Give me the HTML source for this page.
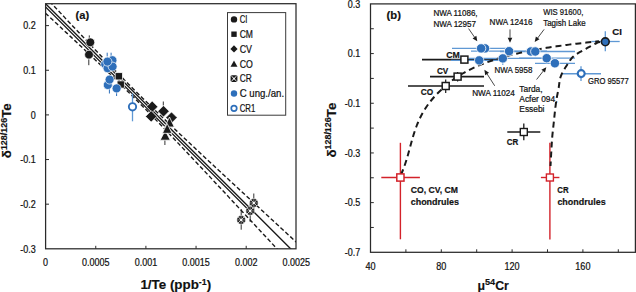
<!DOCTYPE html>
<html><head><meta charset="utf-8"><style>
html,body{margin:0;padding:0;background:#fff;}
body{width:636px;height:292px;overflow:hidden;}
svg{display:block;font-family:"Liberation Sans", sans-serif;}
</style></head><body>
<svg width="636" height="292" viewBox="0 0 636 292">
<rect width="636" height="292" fill="#fff"/>
<defs><clipPath id="ca"><rect x="45.60" y="3.70" width="250.40" height="245.10"/></clipPath><clipPath id="cb"><rect x="370.5" y="3.9" width="263.5" height="248.4"/></clipPath></defs>
<g clip-path="url(#ca)">
<polyline points="40.60,-1.30 42.60,0.70 44.60,2.70 46.60,4.70 48.60,6.70 50.60,8.70 52.60,10.70 54.60,12.70 56.60,14.70 58.60,16.70 60.60,18.70 62.60,20.70 64.60,22.70 66.60,24.70 68.60,26.70 70.60,28.70 72.60,30.70 74.60,32.70 76.60,34.70 78.60,36.70 80.60,38.70 82.60,40.70 84.60,42.70 86.60,44.70 88.60,46.70 90.60,48.70 92.60,50.70 94.60,52.70 96.60,54.70 98.60,56.70 100.60,58.70 102.60,60.70 104.60,62.70 106.60,64.70 108.60,66.70 110.60,68.70 112.60,70.70 114.60,72.70 116.60,74.70 118.60,76.70 120.60,78.70 122.60,80.70 124.60,82.70 126.60,84.70 128.60,86.70 130.60,88.70 132.60,90.70 134.60,92.70 136.60,94.70 138.60,96.70 140.60,98.70 142.60,100.70 144.60,102.70 146.60,104.70 148.60,106.70 150.60,108.70 152.60,110.70 154.60,112.70 156.60,114.70 158.60,116.70 160.60,118.70 162.60,120.70 164.60,122.70 166.60,124.70 168.60,126.70 170.60,128.70 172.60,130.70 174.60,132.70 176.60,134.70 178.60,136.70 180.60,138.70 182.60,140.70 184.60,142.70 186.60,144.70 188.60,146.70 190.60,148.70 192.60,150.70 194.60,152.70 196.60,154.70 198.60,156.70 200.60,158.70 202.60,160.70 204.60,162.70 206.60,164.70 208.60,166.70 210.60,168.70 212.60,170.70 214.60,172.70 216.60,174.70 218.60,176.70 220.60,178.70 222.60,180.70 224.60,182.70 226.60,184.70 228.60,186.70 230.60,188.70 232.60,190.70 234.60,192.70 236.60,194.70 238.60,196.70 240.60,198.70 242.60,200.70 244.60,202.70 246.60,204.70 248.60,206.70 250.60,208.70 252.60,210.70 254.60,212.70 256.60,214.70 258.60,216.70 260.60,218.70 262.60,220.70 264.60,222.70 266.60,224.70 268.60,226.70 270.60,228.70 272.60,230.70 274.60,232.70 276.60,234.70 278.60,236.70 280.60,238.70 282.60,240.70 284.60,242.70 286.60,244.70 288.60,246.70 290.60,248.70 292.60,250.70 294.60,252.70 296.60,254.70 298.60,256.70 300.60,258.70 302.60,260.70 304.60,262.70 306.60,264.70 308.60,266.70" fill="none" stroke="#1a1a1a" stroke-width="1.35" />
<polyline points="40.60,2.00 42.60,4.00 44.60,6.00 46.60,8.00 48.60,10.00 50.60,12.00 52.60,14.00 54.60,16.00 56.60,18.00 58.60,20.00 60.60,22.00 62.60,24.00 64.60,26.00 66.60,28.00 68.60,30.00 70.60,32.00 72.60,34.00 74.60,36.00 76.60,38.00 78.60,40.00 80.60,42.00 82.60,44.00 84.60,46.00 86.60,48.00 88.60,50.00 90.60,52.00 92.60,54.00 94.60,56.00 96.60,58.00 98.60,60.00 100.60,62.00 102.60,64.00 104.60,66.00 106.60,68.00 108.60,70.00 110.60,72.00 112.60,74.00 114.60,76.00 116.60,78.00 118.60,80.00 120.60,82.00 122.60,84.00 124.60,86.00 126.60,88.00 128.60,90.00 130.60,92.00 132.60,94.00 134.60,96.00 136.60,98.00 138.60,100.00 140.60,102.00 142.60,104.00 144.60,106.00 146.60,108.00 148.60,110.00 150.60,112.00 152.60,114.00 154.60,116.00 156.60,118.00 158.60,120.00 160.60,122.00 162.60,124.00 164.60,126.00 166.60,128.00 168.60,130.00 170.60,132.00 172.60,134.00 174.60,136.00 176.60,138.00 178.60,140.00 180.60,142.00 182.60,144.00 184.60,146.00 186.60,148.00 188.60,150.00 190.60,152.00 192.60,154.00 194.60,156.00 196.60,158.00 198.60,160.00 200.60,162.00 202.60,164.00 204.60,166.00 206.60,168.00 208.60,170.00 210.60,172.00 212.60,174.00 214.60,176.00 216.60,178.00 218.60,180.00 220.60,182.00 222.60,184.00 224.60,186.00 226.60,188.00 228.60,190.00 230.60,192.00 232.60,194.00 234.60,196.00 236.60,198.00 238.60,200.00 240.60,202.00 242.60,204.00 244.60,206.00 246.60,208.00 248.60,210.00 250.60,212.00 252.60,214.00" fill="none" stroke="#1a1a1a" stroke-width="1.15" />
<polyline points="40.60,-8.26 42.60,-6.11 44.60,-3.97 46.60,-1.83 48.60,0.31 50.60,2.45 52.60,4.58 54.60,6.72 56.60,8.86 58.60,10.99 60.60,13.12 62.60,15.26 64.60,17.39 66.60,19.52 68.60,21.65 70.60,23.77 72.60,25.90 74.60,28.02 76.60,30.14 78.60,32.26 80.60,34.38 82.60,36.50 84.60,38.61 86.60,40.72 88.60,42.83 90.60,44.94 92.60,47.04 94.60,49.14 96.60,51.24 98.60,53.33 100.60,55.42 102.60,57.51 104.60,59.59 106.60,61.67 108.60,63.74 110.60,65.81 112.60,67.88 114.60,69.93 116.60,71.99 118.60,74.03 120.60,76.08 122.60,78.11 124.60,80.14 126.60,82.17 128.60,84.18 130.60,86.20 132.60,88.20 134.60,90.20 136.60,92.19 138.60,94.17 140.60,96.15 142.60,98.13 144.60,100.09 146.60,102.05 148.60,104.01 150.60,105.96 152.60,107.90 154.60,109.84 156.60,111.77 158.60,113.70 160.60,115.62 162.60,117.54 164.60,119.46 166.60,121.37 168.60,123.28 170.60,125.18 172.60,127.08 174.60,128.98 176.60,130.87 178.60,132.77 180.60,134.66 182.60,136.54 184.60,138.43 186.60,140.31 188.60,142.19 190.60,144.07 192.60,145.95 194.60,147.82 196.60,149.70 198.60,151.57 200.60,153.44 202.60,155.31 204.60,157.18 206.60,159.04 208.60,160.91 210.60,162.77 212.60,164.64 214.60,166.50 216.60,168.36 218.60,170.22 220.60,172.08 222.60,173.94 224.60,175.80 226.60,177.66 228.60,179.52 230.60,181.37 232.60,183.23 234.60,185.08 236.60,186.94 238.60,188.79 240.60,190.65 242.60,192.50 244.60,194.35 246.60,196.21 248.60,198.06 250.60,199.91 252.60,201.76 254.60,203.61 256.60,205.46 258.60,207.31 260.60,209.16 262.60,211.01 264.60,212.86 266.60,214.71 268.60,216.56 270.60,218.41 272.60,220.26 274.60,222.10 276.60,223.95 278.60,225.80 280.60,227.65 282.60,229.49 284.60,231.34 286.60,233.19 288.60,235.03 290.60,236.88 292.60,238.73 294.60,240.57 296.60,242.42 298.60,244.26 300.60,246.11 302.60,247.95 304.60,249.80 306.60,251.64 308.60,253.49" fill="none" stroke="#1a1a1a" stroke-width="1.4" stroke-dasharray="4.2 2.4" />
<polyline points="40.60,8.66 42.60,10.51 44.60,12.37 46.60,14.23 48.60,16.09 50.60,17.95 52.60,19.82 54.60,21.68 56.60,23.54 58.60,25.41 60.60,27.28 62.60,29.14 64.60,31.01 66.60,32.88 68.60,34.75 70.60,36.63 72.60,38.50 74.60,40.38 76.60,42.26 78.60,44.14 80.60,46.02 82.60,47.90 84.60,49.79 86.60,51.68 88.60,53.57 90.60,55.46 92.60,57.36 94.60,59.26 96.60,61.16 98.60,63.07 100.60,64.98 102.60,66.89 104.60,68.81 106.60,70.73 108.60,72.66 110.60,74.59 112.60,76.52 114.60,78.47 116.60,80.41 118.60,82.37 120.60,84.32 122.60,86.29 124.60,88.26 126.60,90.23 128.60,92.22 130.60,94.20 132.60,96.20 134.60,98.20 136.60,100.21 138.60,102.23 140.60,104.25 142.60,106.27 144.60,108.31 146.60,110.35 148.60,112.39 150.60,114.44 152.60,116.50 154.60,118.56 156.60,120.63 158.60,122.70 160.60,124.78 162.60,126.86 164.60,128.94 166.60,131.03 168.60,133.12 170.60,135.22 172.60,137.32 174.60,139.42 176.60,141.53 178.60,143.63 180.60,145.74 182.60,147.86 184.60,149.97 186.60,152.09 188.60,154.21 190.60,156.33 192.60,158.45 194.60,160.58 196.60,162.70 198.60,164.83 200.60,166.96 202.60,169.09 204.60,171.22 206.60,173.36 208.60,175.49 210.60,177.63 212.60,179.76 214.60,181.90 216.60,184.04 218.60,186.18 220.60,188.32 222.60,190.46 224.60,192.60 226.60,194.74 228.60,196.88 230.60,199.03 232.60,201.17 234.60,203.32 236.60,205.46 238.60,207.61 240.60,209.75 242.60,211.90 244.60,214.05 246.60,216.19 248.60,218.34 250.60,220.49 252.60,222.64 254.60,224.79 256.60,226.94 258.60,229.09 260.60,231.24 262.60,233.39 264.60,235.54 266.60,237.69 268.60,239.84 270.60,241.99 272.60,244.14 274.60,246.30 276.60,248.45 278.60,250.60 280.60,252.75 282.60,254.91 284.60,257.06 286.60,259.21 288.60,261.37 290.60,263.52 292.60,265.67 294.60,267.83 296.60,269.98 298.60,272.14 300.60,274.29 302.60,276.45 304.60,278.60 306.60,280.76 308.60,282.91" fill="none" stroke="#1a1a1a" stroke-width="1.4" stroke-dasharray="4.2 2.4" />
</g>
<rect x="45.6" y="3.7" width="250.4" height="245.10000000000002" fill="none" stroke="#2a2a2a" stroke-width="1.25"/>
<line x1="45.60" y1="25.62" x2="49.00" y2="25.62" stroke="#2a2a2a" stroke-width="1" />
<line x1="45.60" y1="70.26" x2="49.00" y2="70.26" stroke="#2a2a2a" stroke-width="1" />
<line x1="45.60" y1="114.90" x2="49.00" y2="114.90" stroke="#2a2a2a" stroke-width="1" />
<line x1="45.60" y1="159.54" x2="49.00" y2="159.54" stroke="#2a2a2a" stroke-width="1" />
<line x1="45.60" y1="204.18" x2="49.00" y2="204.18" stroke="#2a2a2a" stroke-width="1" />
<line x1="95.75" y1="248.80" x2="95.75" y2="245.80" stroke="#2a2a2a" stroke-width="1" />
<line x1="145.90" y1="248.80" x2="145.90" y2="245.80" stroke="#2a2a2a" stroke-width="1" />
<line x1="196.05" y1="248.80" x2="196.05" y2="245.80" stroke="#2a2a2a" stroke-width="1" />
<line x1="246.20" y1="248.80" x2="246.20" y2="245.80" stroke="#2a2a2a" stroke-width="1" />
<text x="35.70" y="29.32" font-size="10.1" font-weight="normal" text-anchor="end" fill="#111" stroke="#111" stroke-width="0.22" textLength="12.5" lengthAdjust="spacingAndGlyphs" >0.2</text>
<text x="35.70" y="73.96" font-size="10.1" font-weight="normal" text-anchor="end" fill="#111" stroke="#111" stroke-width="0.22" textLength="12.5" lengthAdjust="spacingAndGlyphs" >0.1</text>
<text x="35.70" y="118.60" font-size="10.1" font-weight="normal" text-anchor="end" fill="#111" stroke="#111" stroke-width="0.22" textLength="5.0" lengthAdjust="spacingAndGlyphs" >0</text>
<text x="35.70" y="163.24" font-size="10.1" font-weight="normal" text-anchor="end" fill="#111" stroke="#111" stroke-width="0.22" textLength="15.49" lengthAdjust="spacingAndGlyphs" >-0.1</text>
<text x="35.70" y="207.88" font-size="10.1" font-weight="normal" text-anchor="end" fill="#111" stroke="#111" stroke-width="0.22" textLength="15.49" lengthAdjust="spacingAndGlyphs" >-0.2</text>
<text x="35.70" y="252.52" font-size="10.1" font-weight="normal" text-anchor="end" fill="#111" stroke="#111" stroke-width="0.22" textLength="15.49" lengthAdjust="spacingAndGlyphs" >-0.3</text>
<text x="45.60" y="266.00" font-size="10.1" font-weight="normal" text-anchor="middle" fill="#111" stroke="#111" stroke-width="0.22" textLength="5.0" lengthAdjust="spacingAndGlyphs" >0</text>
<text x="95.75" y="266.00" font-size="10.1" font-weight="normal" text-anchor="middle" fill="#111" stroke="#111" stroke-width="0.22" textLength="27.49" lengthAdjust="spacingAndGlyphs" >0.0005</text>
<text x="145.90" y="266.00" font-size="10.1" font-weight="normal" text-anchor="middle" fill="#111" stroke="#111" stroke-width="0.22" textLength="22.49" lengthAdjust="spacingAndGlyphs" >0.001</text>
<text x="196.05" y="266.00" font-size="10.1" font-weight="normal" text-anchor="middle" fill="#111" stroke="#111" stroke-width="0.22" textLength="27.49" lengthAdjust="spacingAndGlyphs" >0.0015</text>
<text x="246.20" y="266.00" font-size="10.1" font-weight="normal" text-anchor="middle" fill="#111" stroke="#111" stroke-width="0.22" textLength="22.49" lengthAdjust="spacingAndGlyphs" >0.002</text>
<text x="296.35" y="266.00" font-size="10.1" font-weight="normal" text-anchor="middle" fill="#111" stroke="#111" stroke-width="0.22" textLength="27.49" lengthAdjust="spacingAndGlyphs" >0.0025</text>
<text x="140.4" y="289.2" font-size="12.4" font-weight="bold" fill="#111" stroke="#111" stroke-width="0.15" textLength="70.8" lengthAdjust="spacingAndGlyphs">1/Te (ppb<tspan dy="-4.6" font-size="8.2">-1</tspan><tspan dy="4.6">)</tspan></text>
<text transform="translate(11,158.2) rotate(-90)" x="0" y="0" font-size="13.2" font-weight="bold" fill="#111" stroke="#111" stroke-width="0.15" textLength="55" lengthAdjust="spacingAndGlyphs">δ<tspan dy="-4.4" font-size="8.8">128/126</tspan><tspan dy="4.4">Te</tspan></text>
<text x="75.60" y="18.90" font-size="11" font-weight="bold" text-anchor="start" fill="#111" stroke="#111" stroke-width="0.18" textLength="13.6" lengthAdjust="spacingAndGlyphs" >(a)</text>
<line x1="89.30" y1="35.40" x2="89.30" y2="38.50" stroke="#1a1a1a" stroke-width="0.9" />
<line x1="88.80" y1="59.00" x2="88.80" y2="65.20" stroke="#1a1a1a" stroke-width="0.9" />
<circle cx="90.30" cy="42.30" r="4.4" fill="#1a1a1a" stroke="#fff" stroke-width="0.7"/>
<circle cx="89.00" cy="54.70" r="4.4" fill="#1a1a1a" stroke="#fff" stroke-width="0.7"/>
<line x1="107.20" y1="52.70" x2="107.20" y2="56.50" stroke="#2e6fba" stroke-width="1" />
<line x1="111.10" y1="52.70" x2="111.10" y2="56.50" stroke="#2e6fba" stroke-width="1" />
<line x1="109.40" y1="89.00" x2="109.40" y2="93.50" stroke="#2e6fba" stroke-width="1" />
<line x1="116.60" y1="92.00" x2="116.60" y2="96.00" stroke="#2e6fba" stroke-width="1" />
<rect x="117.10" y="80.90" width="7.20" height="7.20" fill="#1a1a1a" stroke="#fff" stroke-width="0.7"/>
<rect x="115.20" y="72.70" width="7.20" height="7.20" fill="#1a1a1a" stroke="#fff" stroke-width="0.7"/>
<circle cx="105.20" cy="64.20" r="4.5" fill="#2e6fba" stroke="#fff" stroke-width="0.7"/>
<circle cx="112.40" cy="60.20" r="4.5" fill="#2e6fba" stroke="#fff" stroke-width="0.7"/>
<circle cx="107.60" cy="68.20" r="4.5" fill="#2e6fba" stroke="#fff" stroke-width="0.7"/>
<circle cx="112.60" cy="66.60" r="4.5" fill="#2e6fba" stroke="#fff" stroke-width="0.7"/>
<circle cx="107.40" cy="61.60" r="4.5" fill="#2e6fba" stroke="#fff" stroke-width="0.7"/>
<circle cx="107.80" cy="85.00" r="4.5" fill="#2e6fba" stroke="#fff" stroke-width="0.7"/>
<circle cx="109.60" cy="79.60" r="4.5" fill="#2e6fba" stroke="#fff" stroke-width="0.7"/>
<circle cx="116.60" cy="88.40" r="4.5" fill="#2e6fba" stroke="#fff" stroke-width="0.7"/>
<line x1="132.50" y1="93.50" x2="132.50" y2="121.30" stroke="#5f98d4" stroke-width="1.3" />
<circle cx="132.5" cy="106.8" r="3.65" fill="#fff" stroke="#2e6fba" stroke-width="1.9"/>
<line x1="163.30" y1="101.50" x2="163.30" y2="105.50" stroke="#1a1a1a" stroke-width="0.9" />
<polygon points="152.2,101.0 157.89999999999998,106.7 152.2,112.4 146.5,106.7" fill="#1a1a1a" stroke="#fff" stroke-width="0.7"/>
<polygon points="151.2,110.7 156.89999999999998,116.4 151.2,122.10000000000001 145.5,116.4" fill="#1a1a1a" stroke="#fff" stroke-width="0.7"/>
<polygon points="171.5,111.89999999999999 177.2,117.6 171.5,123.3 165.8,117.6" fill="#1a1a1a" stroke="#fff" stroke-width="0.7"/>
<polygon points="163.5,105.6 169.2,111.3 163.5,117.0 157.8,111.3" fill="#1a1a1a" stroke="#fff" stroke-width="0.7"/>
<line x1="164.90" y1="140.00" x2="164.90" y2="145.00" stroke="#1a1a1a" stroke-width="0.9" />
<polygon points="169.5,117 174.3,127 164.7,127" fill="#1a1a1a" stroke="#fff" stroke-width="0.8"/>
<polygon points="165.2,130.5 170.29999999999998,140.2 160.1,140.2" fill="#1a1a1a" stroke="#fff" stroke-width="0.8"/>
<polygon points="167.2,123.5 172.0,133.3 162.39999999999998,133.3" fill="#1a1a1a" stroke="#fff" stroke-width="0.8"/>
<line x1="253.80" y1="193.50" x2="253.80" y2="212.40" stroke="#1a1a1a" stroke-width="0.9" />
<line x1="250.20" y1="203.00" x2="250.20" y2="222.00" stroke="#1a1a1a" stroke-width="0.9" />
<line x1="241.20" y1="209.10" x2="241.20" y2="229.70" stroke="#1a1a1a" stroke-width="0.9" />
<circle cx="241.2" cy="219.9" r="4.4" fill="#1a1a1a" stroke="#fff" stroke-width="0.6"/>
<path d="M238.11999999999998,216.82L244.28,222.98000000000002M238.11999999999998,222.98000000000002L244.28,216.82" stroke="#fff" stroke-width="0.8"/>
<path d="M241.2,216.16L241.2,223.64000000000001M237.45999999999998,219.9L244.94,219.9" stroke="#fff" stroke-width="0.45"/>
<circle cx="241.2" cy="219.9" r="1.1" fill="#fff"/>
<circle cx="250.2" cy="210.9" r="4.4" fill="#1a1a1a" stroke="#fff" stroke-width="0.6"/>
<path d="M247.11999999999998,207.82L253.28,213.98000000000002M247.11999999999998,213.98000000000002L253.28,207.82" stroke="#fff" stroke-width="0.8"/>
<path d="M250.2,207.16L250.2,214.64000000000001M246.45999999999998,210.9L253.94,210.9" stroke="#fff" stroke-width="0.45"/>
<circle cx="250.2" cy="210.9" r="1.1" fill="#fff"/>
<circle cx="253.8" cy="202.9" r="4.4" fill="#1a1a1a" stroke="#fff" stroke-width="0.6"/>
<path d="M250.72,199.82L256.88,205.98000000000002M250.72,205.98000000000002L256.88,199.82" stroke="#fff" stroke-width="0.8"/>
<path d="M253.8,199.16L253.8,206.64000000000001M250.06,202.9L257.54,202.9" stroke="#fff" stroke-width="0.45"/>
<circle cx="253.8" cy="202.9" r="1.1" fill="#fff"/>
<rect x="227.5" y="12.6" width="58.2" height="102.6" fill="#fff" stroke="#3a3a3a" stroke-width="1"/>
<circle cx="234" cy="19.4" r="3.2" fill="#1a1a1a"/>
<rect x="231.3" y="31.500000000000004" width="5.4" height="5.4" fill="#1a1a1a"/>
<polygon points="234,45.3 237.6,48.9 234,52.5 230.4,48.9" fill="#1a1a1a"/>
<polygon points="234,60.400000000000006 237.5,66.7 230.5,66.7" fill="#1a1a1a"/>
<rect x="230.6" y="75.19999999999999" width="6.8" height="6.8" rx="1.4" fill="#1a1a1a"/>
<path d="M231.4,76.0L236.6,81.19999999999999M231.4,81.19999999999999L236.6,76.0" stroke="#fff" stroke-width="1"/>
<rect x="233.3" y="77.89999999999999" width="1.4" height="1.4" fill="#fff"/>
<circle cx="234" cy="93.5" r="3.2" fill="#2e6fba"/>
<circle cx="234" cy="108.3" r="2.75" fill="#fff" stroke="#2e6fba" stroke-width="1.7"/>
<text x="239.70" y="23.20" font-size="10.4" font-weight="normal" text-anchor="start" fill="#111" stroke="#111" stroke-width="0.22" textLength="7.7" lengthAdjust="spacingAndGlyphs" >CI</text>
<text x="239.70" y="38.00" font-size="10.4" font-weight="normal" text-anchor="start" fill="#111" stroke="#111" stroke-width="0.22" textLength="13.3" lengthAdjust="spacingAndGlyphs" >CM</text>
<text x="239.70" y="52.70" font-size="10.4" font-weight="normal" text-anchor="start" fill="#111" stroke="#111" stroke-width="0.22" textLength="12.3" lengthAdjust="spacingAndGlyphs" >CV</text>
<text x="239.70" y="67.50" font-size="10.4" font-weight="normal" text-anchor="start" fill="#111" stroke="#111" stroke-width="0.22" textLength="13.1" lengthAdjust="spacingAndGlyphs" >CO</text>
<text x="239.70" y="82.40" font-size="10.4" font-weight="normal" text-anchor="start" fill="#111" stroke="#111" stroke-width="0.22" textLength="12.0" lengthAdjust="spacingAndGlyphs" >CR</text>
<text x="239.70" y="97.30" font-size="10.4" font-weight="normal" text-anchor="start" fill="#111" stroke="#111" stroke-width="0.22" textLength="44.4" lengthAdjust="spacingAndGlyphs" >C ung./an.</text>
<text x="239.70" y="112.10" font-size="10.4" font-weight="normal" text-anchor="start" fill="#111" stroke="#111" stroke-width="0.22" textLength="15.6" lengthAdjust="spacingAndGlyphs" >CR1</text>
<rect x="370.5" y="3.9" width="264.9" height="248.4" fill="none" stroke="#2a2a2a" stroke-width="1.25"/>
<line x1="370.50" y1="28.74" x2="373.80" y2="28.74" stroke="#2a2a2a" stroke-width="1" />
<line x1="370.50" y1="53.58" x2="373.80" y2="53.58" stroke="#2a2a2a" stroke-width="1" />
<line x1="370.50" y1="78.42" x2="373.80" y2="78.42" stroke="#2a2a2a" stroke-width="1" />
<line x1="370.50" y1="103.26" x2="373.80" y2="103.26" stroke="#2a2a2a" stroke-width="1" />
<line x1="370.50" y1="128.10" x2="373.80" y2="128.10" stroke="#2a2a2a" stroke-width="1" />
<line x1="370.50" y1="152.94" x2="373.80" y2="152.94" stroke="#2a2a2a" stroke-width="1" />
<line x1="370.50" y1="177.78" x2="373.80" y2="177.78" stroke="#2a2a2a" stroke-width="1" />
<line x1="370.50" y1="202.62" x2="373.80" y2="202.62" stroke="#2a2a2a" stroke-width="1" />
<line x1="370.50" y1="227.46" x2="373.80" y2="227.46" stroke="#2a2a2a" stroke-width="1" />
<line x1="405.90" y1="252.30" x2="405.90" y2="249.30" stroke="#2a2a2a" stroke-width="1" />
<line x1="441.30" y1="252.30" x2="441.30" y2="249.30" stroke="#2a2a2a" stroke-width="1" />
<line x1="476.70" y1="252.30" x2="476.70" y2="249.30" stroke="#2a2a2a" stroke-width="1" />
<line x1="512.10" y1="252.30" x2="512.10" y2="249.30" stroke="#2a2a2a" stroke-width="1" />
<line x1="547.50" y1="252.30" x2="547.50" y2="249.30" stroke="#2a2a2a" stroke-width="1" />
<line x1="582.90" y1="252.30" x2="582.90" y2="249.30" stroke="#2a2a2a" stroke-width="1" />
<line x1="618.30" y1="252.30" x2="618.30" y2="249.30" stroke="#2a2a2a" stroke-width="1" />
<text x="360.20" y="7.60" font-size="10.1" font-weight="normal" text-anchor="end" fill="#111" stroke="#111" stroke-width="0.22" textLength="12.5" lengthAdjust="spacingAndGlyphs" >0.3</text>
<text x="360.20" y="57.28" font-size="10.1" font-weight="normal" text-anchor="end" fill="#111" stroke="#111" stroke-width="0.22" textLength="12.5" lengthAdjust="spacingAndGlyphs" >0.1</text>
<text x="360.20" y="106.96" font-size="10.1" font-weight="normal" text-anchor="end" fill="#111" stroke="#111" stroke-width="0.22" textLength="15.49" lengthAdjust="spacingAndGlyphs" >-0.1</text>
<text x="360.20" y="156.64" font-size="10.1" font-weight="normal" text-anchor="end" fill="#111" stroke="#111" stroke-width="0.22" textLength="15.49" lengthAdjust="spacingAndGlyphs" >-0.3</text>
<text x="360.20" y="206.32" font-size="10.1" font-weight="normal" text-anchor="end" fill="#111" stroke="#111" stroke-width="0.22" textLength="15.49" lengthAdjust="spacingAndGlyphs" >-0.5</text>
<text x="360.20" y="256.00" font-size="10.1" font-weight="normal" text-anchor="end" fill="#111" stroke="#111" stroke-width="0.22" textLength="15.49" lengthAdjust="spacingAndGlyphs" >-0.7</text>
<text x="370.50" y="269.60" font-size="10.1" font-weight="normal" text-anchor="middle" fill="#111" stroke="#111" stroke-width="0.22" textLength="10.11" lengthAdjust="spacingAndGlyphs" >40</text>
<text x="441.30" y="269.60" font-size="10.1" font-weight="normal" text-anchor="middle" fill="#111" stroke="#111" stroke-width="0.22" textLength="10.11" lengthAdjust="spacingAndGlyphs" >80</text>
<text x="512.10" y="269.60" font-size="10.1" font-weight="normal" text-anchor="middle" fill="#111" stroke="#111" stroke-width="0.22" textLength="15.17" lengthAdjust="spacingAndGlyphs" >120</text>
<text x="582.90" y="269.60" font-size="10.1" font-weight="normal" text-anchor="middle" fill="#111" stroke="#111" stroke-width="0.22" textLength="15.17" lengthAdjust="spacingAndGlyphs" >160</text>
<text x="477.4" y="289.6" font-size="12.4" font-weight="bold" fill="#111" stroke="#111" stroke-width="0.15" textLength="31.5" lengthAdjust="spacingAndGlyphs">μ<tspan dy="-4.9" font-size="9.2">54</tspan><tspan dy="4.9">Cr</tspan></text>
<text transform="translate(335.8,157.6) rotate(-90)" x="0" y="0" font-size="13.2" font-weight="bold" fill="#111" stroke="#111" stroke-width="0.15" textLength="55" lengthAdjust="spacingAndGlyphs">δ<tspan dy="-4.4" font-size="8.8">128/126</tspan><tspan dy="4.4">Te</tspan></text>
<text x="386.60" y="18.90" font-size="11.2" font-weight="bold" text-anchor="start" fill="#111" stroke="#111" stroke-width="0.18" textLength="14.4" lengthAdjust="spacingAndGlyphs" >(b)</text>
<line x1="381.30" y1="177.50" x2="419.90" y2="177.50" stroke="#d3222a" stroke-width="1.4" />
<line x1="400.40" y1="142.80" x2="400.40" y2="239.30" stroke="#d3222a" stroke-width="1.4" />
<line x1="540.90" y1="177.50" x2="559.40" y2="177.50" stroke="#d3222a" stroke-width="1.4" />
<line x1="549.90" y1="142.80" x2="549.90" y2="239.40" stroke="#d3222a" stroke-width="1.4" />
<line x1="422.00" y1="59.60" x2="507.00" y2="59.60" stroke="#1a1a1a" stroke-width="1.6" />
<line x1="430.00" y1="76.60" x2="484.00" y2="76.60" stroke="#1a1a1a" stroke-width="1.6" />
<line x1="408.00" y1="86.00" x2="484.00" y2="86.00" stroke="#1a1a1a" stroke-width="1.6" />
<line x1="457.60" y1="72.00" x2="457.60" y2="81.50" stroke="#1a1a1a" stroke-width="1.2" />
<line x1="445.70" y1="79.50" x2="445.70" y2="93.00" stroke="#1a1a1a" stroke-width="1.2" />
<line x1="507.30" y1="132.00" x2="540.30" y2="132.00" stroke="#1a1a1a" stroke-width="1.6" />
<line x1="523.80" y1="123.50" x2="523.80" y2="140.30" stroke="#1a1a1a" stroke-width="1.3" />
<line x1="452.00" y1="48.40" x2="510.00" y2="48.40" stroke="#5f98d4" stroke-width="1.3" />
<line x1="471.00" y1="51.20" x2="547.00" y2="51.20" stroke="#5f98d4" stroke-width="1.3" />
<line x1="500.00" y1="51.50" x2="575.00" y2="51.50" stroke="#5f98d4" stroke-width="1.3" />
<line x1="451.00" y1="60.40" x2="507.00" y2="60.40" stroke="#5f98d4" stroke-width="1.3" />
<line x1="469.00" y1="58.40" x2="542.00" y2="58.40" stroke="#5f98d4" stroke-width="1.3" />
<line x1="519.00" y1="58.20" x2="575.00" y2="58.20" stroke="#5f98d4" stroke-width="1.3" />
<line x1="535.00" y1="63.30" x2="575.00" y2="63.30" stroke="#5f98d4" stroke-width="1.3" />
<line x1="502.80" y1="62.00" x2="502.80" y2="65.00" stroke="#5f98d4" stroke-width="1.1" />
<line x1="591.40" y1="41.50" x2="619.70" y2="41.50" stroke="#5f98d4" stroke-width="1.3" />
<line x1="605.30" y1="31.20" x2="605.30" y2="51.30" stroke="#5f98d4" stroke-width="1.3" />
<line x1="561.40" y1="73.80" x2="601.00" y2="73.80" stroke="#5f98d4" stroke-width="1.4" />
<line x1="581.00" y1="66.30" x2="581.00" y2="81.00" stroke="#5f98d4" stroke-width="1.3" />
<polyline points="400.82,175.00 401.71,173.00 402.55,171.00 403.34,169.00 404.10,167.00 404.81,165.00 405.48,163.00 406.13,161.00 406.75,159.00 407.35,157.00 407.92,155.00 408.48,153.00 409.03,151.00 409.58,149.00 410.12,147.00 410.66,145.00 411.20,143.00 411.76,141.00 412.32,139.00 412.91,137.00 413.51,135.00 414.14,133.00 414.80,131.00 415.48,129.00 416.21,127.00 416.97,125.00 417.78,123.00 418.64,121.00 419.55,119.00 420.52,117.00 421.54,115.00 422.63,113.00 423.79,111.00 425.02,109.00 426.33,107.00 427.71,105.00 429.18,103.00 430.74,101.00 432.39,99.00 434.14,97.00 435.98,95.00 437.93,93.00 439.98,91.00 442.15,89.00 444.44,87.00 446.50,84.84 449.00,82.79 451.50,80.86 454.00,79.05 456.50,77.34 459.00,75.72 461.50,74.20 464.00,72.75 466.50,71.38 469.00,70.07 471.50,68.83 474.00,67.65 476.50,66.52 479.00,65.45 481.50,64.42 484.00,63.43 486.50,62.49 489.00,61.59 491.50,60.73 494.00,59.90 496.50,59.10 499.00,58.33 501.50,57.59 504.00,56.88 506.50,56.19 509.00,55.53 511.50,54.90 514.00,54.28 516.50,53.69 519.00,53.11 521.50,52.55 524.00,52.02 526.50,51.50 529.00,50.99 531.50,50.50 534.00,50.03 536.50,49.57 539.00,49.12 541.50,48.69 544.00,48.27 546.50,47.86 549.00,47.46 551.50,47.07 554.00,46.69 556.50,46.33 559.00,45.97 561.50,45.62 564.00,45.28 566.50,44.95 569.00,44.63 571.50,44.32 574.00,44.01 576.50,43.71 579.00,43.42 581.50,43.13 584.00,42.86 586.50,42.58 589.00,42.32 591.50,42.06 594.00,41.80 596.50,41.56 599.00,41.31" fill="none" stroke="#1a1a1a" stroke-width="2.0" stroke-dasharray="6 4" />
<polyline points="600.00,42.00 599.80,42.04 599.58,42.07 599.33,42.09 599.02,42.14 598.63,42.23 598.13,42.39 597.49,42.64 596.70,43.00 595.72,43.49 594.56,44.08 593.25,44.76 591.84,45.51 590.37,46.31 588.86,47.14 587.36,47.98 585.90,48.80 584.42,49.62 582.87,50.45 581.28,51.30 579.67,52.17 578.10,53.07 576.59,54.01 575.18,54.98 573.90,56.00 572.76,57.07 571.73,58.18 570.79,59.34 569.92,60.52 569.09,61.74 568.30,62.98 567.50,64.23 566.70,65.50 565.88,66.77 565.05,68.05 564.24,69.35 563.45,70.67 562.70,72.02 562.00,73.41 561.36,74.83 560.80,76.30 560.33,77.83 559.95,79.41 559.64,81.04 559.38,82.70 559.15,84.38 558.92,86.06 558.68,87.74 558.40,89.40 558.10,90.98 557.80,92.48 557.50,93.94 557.21,95.42 556.91,96.97 556.61,98.65 556.30,100.51 556.00,102.60 555.69,105.01 555.36,107.73 555.03,110.65 554.69,113.69 554.37,116.74 554.06,119.70 553.77,122.49 553.50,125.00 553.26,127.15 553.05,129.01 552.86,130.68 552.69,132.28 552.52,133.89 552.35,135.65 552.18,137.65 552.00,140.00 551.80,142.90 551.59,146.34 551.37,150.09 551.16,153.94 550.95,157.67 550.77,161.07 550.62,163.92 550.50,166.00" fill="none" stroke="#1a1a1a" stroke-width="2.0" stroke-dasharray="6 4" />
<rect x="460.90" y="56.10" width="7.00" height="7.00" fill="#fff" stroke="#1a1a1a" stroke-width="1.5"/>
<rect x="454.10" y="73.10" width="7.00" height="7.00" fill="#fff" stroke="#1a1a1a" stroke-width="1.5"/>
<rect x="442.20" y="82.50" width="7.00" height="7.00" fill="#fff" stroke="#1a1a1a" stroke-width="1.5"/>
<rect x="520.30" y="128.50" width="7.00" height="7.00" fill="#fff" stroke="#1a1a1a" stroke-width="1.4"/>
<rect x="396.80" y="173.90" width="7.20" height="7.20" fill="#fff" stroke="#d3222a" stroke-width="1.5"/>
<rect x="546.40" y="174.00" width="7.00" height="7.00" fill="#fff" stroke="#d3222a" stroke-width="1.4"/>
<circle cx="485.00" cy="48.40" r="4.7" fill="#2e6fba" stroke="#fff" stroke-width="0.8"/>
<circle cx="481.10" cy="48.40" r="4.7" fill="#2e6fba" stroke="#fff" stroke-width="0.8"/>
<circle cx="509.10" cy="51.20" r="4.7" fill="#2e6fba" stroke="#fff" stroke-width="0.8"/>
<circle cx="530.90" cy="51.50" r="4.7" fill="#2e6fba" stroke="#fff" stroke-width="0.8"/>
<circle cx="535.30" cy="51.50" r="4.7" fill="#2e6fba" stroke="#fff" stroke-width="0.8"/>
<circle cx="479.20" cy="60.40" r="4.7" fill="#2e6fba" stroke="#fff" stroke-width="0.8"/>
<circle cx="502.80" cy="58.40" r="4.7" fill="#2e6fba" stroke="#fff" stroke-width="0.8"/>
<circle cx="546.70" cy="58.20" r="4.7" fill="#2e6fba" stroke="#fff" stroke-width="0.8"/>
<circle cx="554.90" cy="63.30" r="4.7" fill="#2e6fba" stroke="#fff" stroke-width="0.8"/>
<circle cx="605.3" cy="41.8" r="3.9" fill="#2e6fba" stroke="#1a1a1a" stroke-width="1.6"/>
<circle cx="581.2" cy="73.6" r="3.5" fill="#fff" stroke="#2e6fba" stroke-width="2.1"/>
<line x1="468.60" y1="28.60" x2="474.46" y2="37.09" stroke="#1a1a1a" stroke-width="0.8" />
<polygon points="477.30,41.20 472.57,38.39 476.35,35.78" fill="#1a1a1a"/>
<line x1="510.00" y1="29.40" x2="510.00" y2="37.80" stroke="#1a1a1a" stroke-width="0.8" />
<polygon points="510.00,42.80 507.70,37.80 512.30,37.80" fill="#1a1a1a"/>
<line x1="544.10" y1="29.40" x2="537.69" y2="37.99" stroke="#1a1a1a" stroke-width="0.8" />
<polygon points="534.70,42.00 535.85,36.62 539.53,39.37" fill="#1a1a1a"/>
<line x1="494.70" y1="85.80" x2="487.11" y2="74.00" stroke="#1a1a1a" stroke-width="0.8" />
<polygon points="484.40,69.80 489.04,72.76 485.17,75.25" fill="#1a1a1a"/>
<line x1="536.60" y1="79.50" x2="543.20" y2="71.13" stroke="#1a1a1a" stroke-width="0.8" />
<polygon points="546.30,67.20 545.01,72.55 541.40,69.70" fill="#1a1a1a"/>
<text x="433.40" y="15.80" font-size="8.4" font-weight="normal" text-anchor="start" fill="#111" stroke="#111" stroke-width="0.22" textLength="44.2" lengthAdjust="spacingAndGlyphs" >NWA 11086,</text>
<text x="433.40" y="26.60" font-size="8.4" font-weight="normal" text-anchor="start" fill="#111" stroke="#111" stroke-width="0.22" textLength="42.6" lengthAdjust="spacingAndGlyphs" >NWA 12957</text>
<text x="489.60" y="24.70" font-size="8.4" font-weight="normal" text-anchor="start" fill="#111" stroke="#111" stroke-width="0.22" textLength="42.9" lengthAdjust="spacingAndGlyphs" >NWA 12416</text>
<text x="543.20" y="14.90" font-size="8.4" font-weight="normal" text-anchor="start" fill="#111" stroke="#111" stroke-width="0.22" textLength="40.1" lengthAdjust="spacingAndGlyphs" >WIS 91600,</text>
<text x="543.20" y="25.50" font-size="8.4" font-weight="normal" text-anchor="start" fill="#111" stroke="#111" stroke-width="0.22" textLength="42.4" lengthAdjust="spacingAndGlyphs" >Tagish Lake</text>
<text x="494.60" y="72.70" font-size="8.4" font-weight="normal" text-anchor="start" fill="#111" stroke="#111" stroke-width="0.22" textLength="37.8" lengthAdjust="spacingAndGlyphs" >NWA 5958</text>
<text x="472.20" y="95.70" font-size="8.4" font-weight="normal" text-anchor="start" fill="#111" stroke="#111" stroke-width="0.22" textLength="42.6" lengthAdjust="spacingAndGlyphs" >NWA 11024</text>
<text x="519.30" y="92.40" font-size="8.4" font-weight="normal" text-anchor="start" fill="#111" stroke="#111" stroke-width="0.22" >Tarda,</text>
<text x="519.30" y="102.20" font-size="8.4" font-weight="normal" text-anchor="start" fill="#111" stroke="#111" stroke-width="0.22" >Acfer 094,</text>
<text x="519.30" y="112.00" font-size="8.4" font-weight="normal" text-anchor="start" fill="#111" stroke="#111" stroke-width="0.22" >Essebi</text>
<text x="588.00" y="84.40" font-size="8.4" font-weight="normal" text-anchor="start" fill="#111" stroke="#111" stroke-width="0.22" textLength="40.7" lengthAdjust="spacingAndGlyphs" >GRO 95577</text>
<text x="612.30" y="35.10" font-size="9.6" font-weight="bold" text-anchor="start" fill="#111" stroke="#111" stroke-width="0.18" >CI</text>
<text x="446.20" y="57.70" font-size="9.6" font-weight="bold" text-anchor="start" fill="#111" stroke="#111" stroke-width="0.18" textLength="13.6" lengthAdjust="spacingAndGlyphs" >CM</text>
<text x="436.90" y="73.80" font-size="9.6" font-weight="bold" text-anchor="start" fill="#111" stroke="#111" stroke-width="0.18" textLength="11.4" lengthAdjust="spacingAndGlyphs" >CV</text>
<text x="420.80" y="95.20" font-size="9.6" font-weight="bold" text-anchor="start" fill="#111" stroke="#111" stroke-width="0.18" textLength="12.4" lengthAdjust="spacingAndGlyphs" >CO</text>
<text x="506.80" y="144.50" font-size="9.6" font-weight="bold" text-anchor="start" fill="#111" stroke="#111" stroke-width="0.18" textLength="11.5" lengthAdjust="spacingAndGlyphs" >CR</text>
<text x="410.70" y="192.80" font-size="9.6" font-weight="bold" text-anchor="start" fill="#111" stroke="#111" stroke-width="0.18" textLength="47.2" lengthAdjust="spacingAndGlyphs" >CO, CV, CM</text>
<text x="410.70" y="204.70" font-size="9.6" font-weight="bold" text-anchor="start" fill="#111" stroke="#111" stroke-width="0.18" textLength="48.3" lengthAdjust="spacingAndGlyphs" >chondrules</text>
<text x="557.30" y="193.10" font-size="9.6" font-weight="bold" text-anchor="start" fill="#111" stroke="#111" stroke-width="0.18" textLength="11.3" lengthAdjust="spacingAndGlyphs" >CR</text>
<text x="557.40" y="204.80" font-size="9.6" font-weight="bold" text-anchor="start" fill="#111" stroke="#111" stroke-width="0.18" textLength="48.3" lengthAdjust="spacingAndGlyphs" >chondrules</text>
</svg>
</body></html>
